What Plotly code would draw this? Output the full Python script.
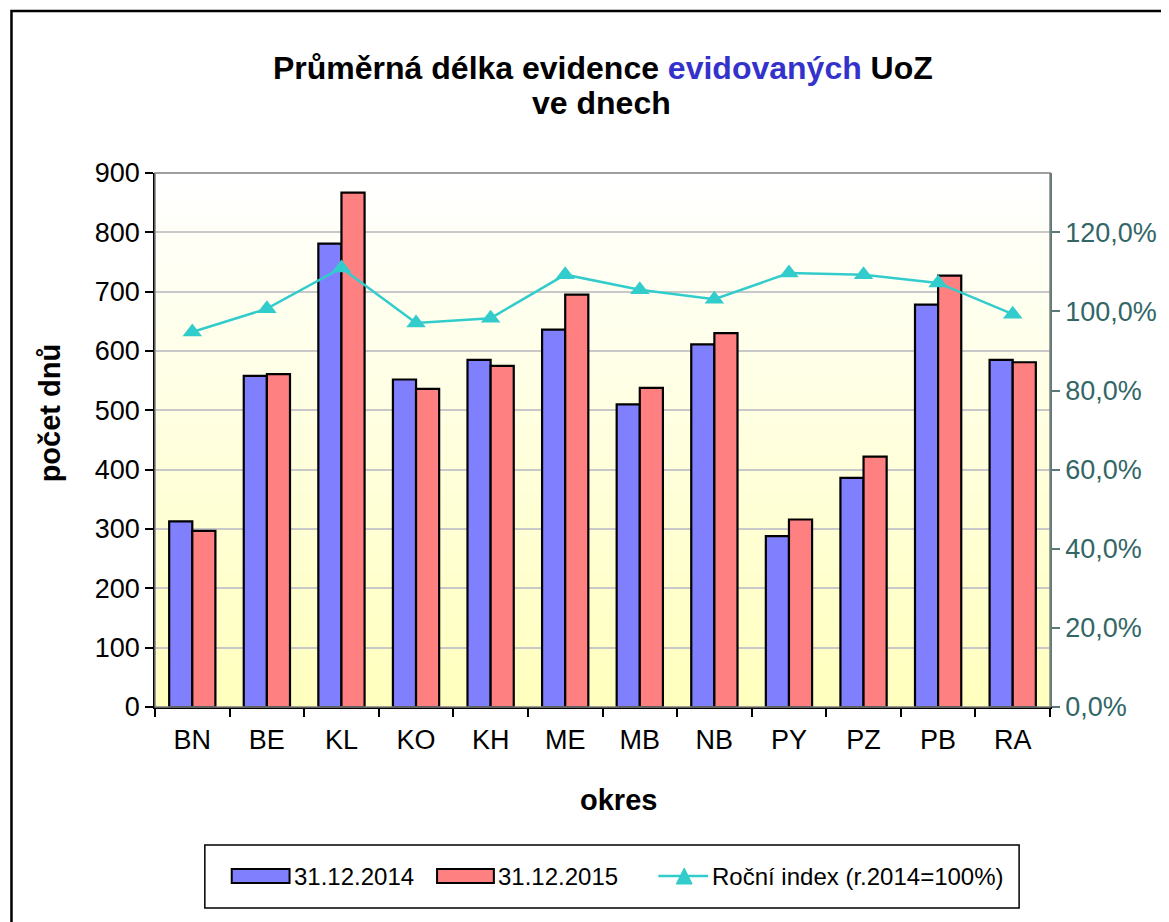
import plotly.graph_objects as go

okresy = ["BN", "BE", "KL", "KO", "KH", "ME", "MB", "NB", "PY", "PZ", "PB", "RA"]
val_2014 = [313, 558, 781, 552, 585, 636, 510, 611, 288, 386, 678, 585]
val_2015 = [297, 561, 867, 536, 575, 695, 538, 630, 316, 422, 727, 581]
rocni_index = [0.948, 1.007, 1.110, 0.971, 0.983, 1.093, 1.055, 1.031, 1.097, 1.093, 1.072, 0.993]
serie = ["31.12.2014", "31.12.2015", "Roční index (r.2014=100%)"]

OFF = 8                      # page body margin
W, H = 1169 - OFF, 922 - OFF
# plot area in screen pixels
X0, X1, Y0, Y1 = 155, 1053, 173, 707
pw, ph = X1 - X0, Y1 - Y0
L, T = X0 - OFF, Y0 - OFF
R, B = W - L - pw, H - T - ph


def px(x):
    return (x - X0) / pw


def py(y):
    return (Y1 - y) / ph


FONT = "Liberation Sans, Arial, sans-serif"
BLUE, RED, CYAN = "#8080FF", "#FF8080", "#33CCCC"

fig = go.Figure()
fig.add_trace(go.Bar(x=okresy, y=val_2014, name=serie[0], showlegend=False,
                     marker=dict(color=BLUE, line=dict(color="black", width=2.2))))
fig.add_trace(go.Bar(x=okresy, y=val_2015, name=serie[1], showlegend=False,
                     marker=dict(color=RED, line=dict(color="black", width=2.2))))
fig.add_trace(go.Scatter(x=okresy, y=rocni_index, name=serie[2], yaxis="y2", showlegend=False,
                         mode="lines+markers", cliponaxis=False,
                         line=dict(color=CYAN, width=2.5),
                         marker=dict(symbol="triangle-up", size=17, color=CYAN)))

shapes = []
# gradient background (white top -> light yellow bottom)
n = 60
for i in range(n):
    t = i / (n - 1)
    b = int(round(255 - (255 - 190) * (1 - t)))
    shapes.append(dict(type="rect", xref="paper", yref="paper", x0=0, x1=1,
                       y0=i / n, y1=(i + 1) / n + 0.002, layer="below",
                       line=dict(width=0), fillcolor=f"rgb(255,255,{b})"))
# plot-area border (grey)
shapes.append(dict(type="rect", xref="paper", yref="paper", x0=0, x1=1, y0=0, y1=1,
                   layer="above", line=dict(color="#808080", width=1.5), fillcolor="rgba(0,0,0,0)"))
# outer chart border
shapes.append(dict(type="rect", xref="paper", yref="paper", x0=px(11), x1=px(1400),
                   y0=py(1200), y1=py(11), line=dict(color="black", width=2.5),
                   fillcolor="rgba(0,0,0,0)"))

# custom legend
shapes.append(dict(type="rect", xref="paper", yref="paper", x0=px(205), x1=px(1022),
                   y0=py(908), y1=py(845), line=dict(color="black", width=1.5),
                   fillcolor="white"))
LY = 876
shapes.append(dict(type="rect", xref="paper", yref="paper", x0=px(232), x1=px(290),
                   y0=py(883), y1=py(869), line=dict(color="black", width=2), fillcolor=BLUE))
shapes.append(dict(type="rect", xref="paper", yref="paper", x0=px(438), x1=px(495),
                   y0=py(883), y1=py(869), line=dict(color="black", width=2), fillcolor=RED))
shapes.append(dict(type="line", xref="paper", yref="paper", x0=px(660), x1=px(710),
                   y0=py(LY), y1=py(LY), line=dict(color=CYAN, width=2.5)))
tri = "M {} {} L {} {} L {} {} Z".format(px(678), py(884), px(694), py(884), px(686), py(868))
shapes.append(dict(type="path", xref="paper", yref="paper", path=tri,
                   line=dict(color=CYAN, width=1), fillcolor=CYAN))

annotations = [
    dict(text="<b>Průměrná délka evidence <span style='color:#3333CC'>evidovaných</span> UoZ</b>",
         x=px(604), y=py(68), xref="paper", yref="paper", xanchor="center", yanchor="middle",
         showarrow=False, font=dict(size=32, color="black", family=FONT)),
    dict(text="<b>ve dnech</b>",
         x=px(603), y=py(103), xref="paper", yref="paper", xanchor="center", yanchor="middle",
         showarrow=False, font=dict(size=32, color="black", family=FONT)),
    dict(text="<b>počet dnů</b>", x=px(50), y=py(413), xref="paper", yref="paper",
         xanchor="center", yanchor="middle",
         textangle=-90, showarrow=False, font=dict(size=29, color="black", family=FONT)),
    dict(text="<b>okres</b>", x=px(620), y=py(800), xref="paper", yref="paper",
         xanchor="center", yanchor="middle",
         showarrow=False, font=dict(size=29, color="black", family=FONT)),
    dict(text=serie[0], x=px(292), y=py(LY), xref="paper", yref="paper", xanchor="left",
         yanchor="middle", showarrow=False, font=dict(size=24, color="black", family=FONT)),
    dict(text=serie[1], x=px(497), y=py(LY), xref="paper", yref="paper", xanchor="left",
         yanchor="middle", showarrow=False, font=dict(size=24, color="black", family=FONT)),
    dict(text=serie[2], x=px(712), y=py(LY), xref="paper", yref="paper", xanchor="left",
         yanchor="middle", showarrow=False, font=dict(size=24, color="black", family=FONT)),
]

fig.update_layout(
    width=W, height=H,
    margin=dict(l=L, r=R, t=T, b=B),
    paper_bgcolor="white",
    plot_bgcolor="rgba(0,0,0,0)",
    separators=", ",
    font=dict(family=FONT, size=24, color="black"),
    showlegend=False,
    barmode="group", bargap=0.38, bargroupgap=0,
    xaxis=dict(type="category", range=[-0.5, len(okresy) - 0.5],
               showline=True, linecolor="black", linewidth=1.5,
               ticks="outside", ticklen=8, tickcolor="black", tickwidth=1.5,
               tickson="boundaries", showgrid=False, ticklabelstandoff=8,
               tickfont=dict(size=27, color="black")),
    yaxis=dict(range=[0, 900], dtick=100, showline=True, linecolor="black", linewidth=1.5,
               ticks="outside", ticklen=8, tickcolor="black", tickwidth=1.5,
               showgrid=True, gridcolor="#C8C8C8", gridwidth=1.5, zeroline=False,
               tickfont=dict(size=27, color="black")),
    yaxis2=dict(range=[0, 1.35], dtick=0.2, tickformat=".1%", overlaying="y", side="right",
                showline=True, linecolor="#5A7A7A", linewidth=1.5,
                ticks="outside", ticklen=8, tickcolor="#5A7A7A", tickwidth=1.5,
                showgrid=False, zeroline=False,
                tickfont=dict(size=27, color="#336666")),
    shapes=shapes,
    annotations=annotations,
)

fig.write_html("out.html")
